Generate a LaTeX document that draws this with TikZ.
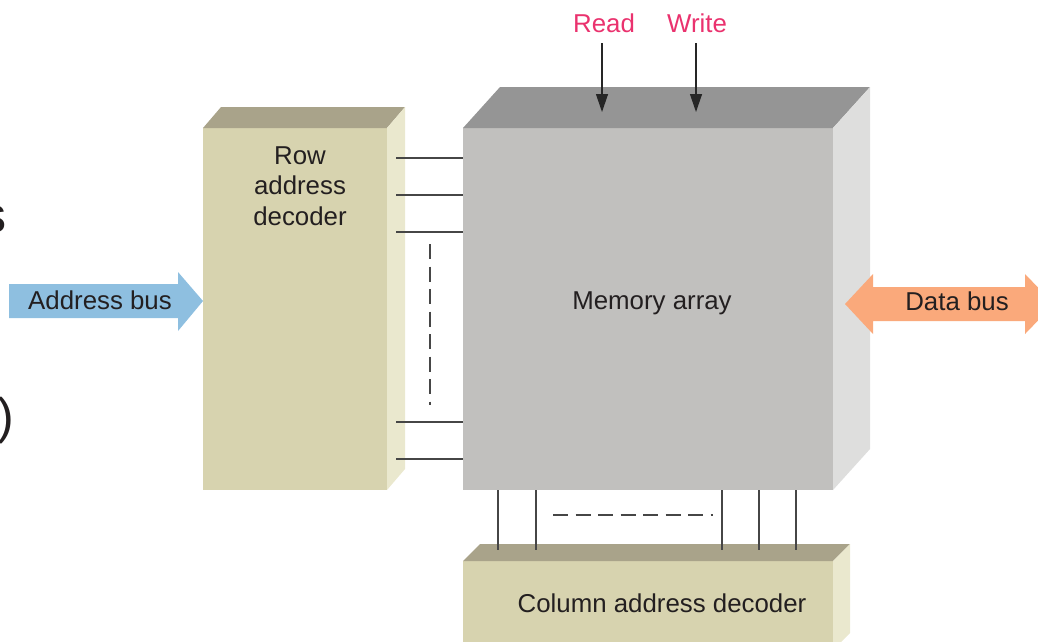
\documentclass[tikz,border=0pt]{standalone}
\usepackage{fontspec}
\setmainfont{Liberation Sans}
\usetikzlibrary{arrows.meta, positioning, calc, fit}

\definecolor{memfront}{RGB}{193,192,190}
\definecolor{memtop}{RGB}{149,149,149}
\definecolor{memside}{RGB}{222,222,221}
\definecolor{decfront}{RGB}{215,211,175}
\definecolor{dectop}{RGB}{169,163,138}
\definecolor{decside}{RGB}{234,232,206}
\definecolor{busblue}{RGB}{142,191,224}
\definecolor{busorange}{RGB}{250,169,123}
\definecolor{rwpink}{RGB}{234,50,110}
\definecolor{textdark}{RGB}{35,31,32}
\definecolor{wiregray}{RGB}{70,70,70}

\tikzset{
  lbl/.style={text=textdark, font=\fontsize{14.7pt}{17.4pt}\selectfont, inner sep=0pt, align=center},
  bigfrag/.style={lbl, font=\fontsize{28.5pt}{34pt}\selectfont, anchor=base east},
  face/.style={inner sep=0pt, outer sep=0pt, fill=#1},
  wire/.style={draw=wiregray, line width=0.22mm},
  dashwire/.style={wire, dash pattern=on 3mm off 1.5mm},
  rwarrow/.style={draw=black!85, line width=0.25mm, -{Triangle[length=3.6mm, width=2.4mm]}},
}

\begin{document}
\begin{tikzpicture}[x=0.2mm, y=-0.2mm]
    \useasboundingbox (0,0) rectangle (1038,641);
    \clip (0,0) rectangle (1038,641);

    % Cut-off text at the left edge
    \node (fs) [bigfrag] at (6.5,232) {s};
    \node (fp) [bigfrag] at (15,433) {)};

    % Row address decoder block
    \node (rowdec) [face=decfront, fit={(203,128) (387,490)}] {};
    \fill[dectop] (rowdec.north west) -- ++(18,-21) -- ($(rowdec.north east)+(18,-21)$) -- (rowdec.north east) -- cycle;
    \fill[decside] (rowdec.north east) -- ++(18,-21) -- ($(rowdec.south east)+(18,-21)$) -- (rowdec.south east) -- cycle;
    \node (rowtxt) [lbl] at ($(rowdec.north)+(5,58)$) {Row\\address\\decoder};

    % Memory array block
    \node (mem) [face=memfront, fit={(463,128) (833,490)}] {};
    \fill[memtop] (mem.north west) -- ++(37,-41) -- ($(mem.north east)+(37,-41)$) -- (mem.north east) -- cycle;
    \fill[memside] (mem.north east) -- ++(37,-41) -- ($(mem.south east)+(37,-41)$) -- (mem.south east) -- cycle;
    \node (memtxt) [lbl] at ($(mem.center)+(4,-6)$) {Memory array};

    % Column address decoder block
    \node (coldec) [face=decfront, fit={(463,561) (833,650)}] {};
    \fill[dectop] (coldec.north west) -- ++(17,-17) -- ($(coldec.north east)+(17,-17)$) -- (coldec.north east) -- cycle;
    \fill[decside] (coldec.north east) -- ++(17,-17) -- ($(coldec.south east)+(17,-17)$) -- (coldec.south east) -- cycle;
    \node (coltxt) [lbl] at ($(coldec.north west)+(199,42)$) {Column address decoder};

    % Row select lines
    \foreach \dy in {30,67,104,294,331}
        \draw[wire] ($(rowdec.north east)+(9,\dy)$) -- ($(mem.north west)+(0,\dy)$);
    \draw[dashwire] ($(rowdec.north east)+(43,116)$) -- ($(rowdec.north east)+(43,277)$);

    % Column lines
    \foreach \dx in {35,73,259,296,333}
        \draw[wire] ($(mem.south west)+(\dx,0)$) -- ($(coldec.north west)+(\dx,-11)$);
    \draw[dashwire] ($(mem.south west)+(90,25)$) -- ($(mem.south west)+(250,25)$);

    % Read / Write control
    \node (rd) [lbl, text=rwpink] at (604,23) {Read};
    \node (wr) [lbl, text=rwpink] at (697,23) {Write};
    \draw[rwarrow] ($(rd.center)+(-2,20)$) -- ($(mem.north west)+(139,-16)$);
    \draw[rwarrow] ($(wr.center)+(-1,20)$) -- ($(mem.north west)+(233,-16)$);

    % Address bus
    \fill[busblue] (9,284) -- (178,284) -- (178,272) -- (203,301) -- (178,331) -- (178,318) -- (9,318) -- cycle;
    \node (adr) [lbl] at (100,300) {Address bus};

    % Data bus
    \fill[busorange] (845,304) -- (873,274) -- (873,287) -- (1025,287) -- (1025,274) -- (1054,304)
        -- (1025,334) -- (1025,321) -- (873,321) -- (873,334) -- cycle;
    \node (dat) [lbl] at (957,301) {Data bus};
\end{tikzpicture}
\end{document}
